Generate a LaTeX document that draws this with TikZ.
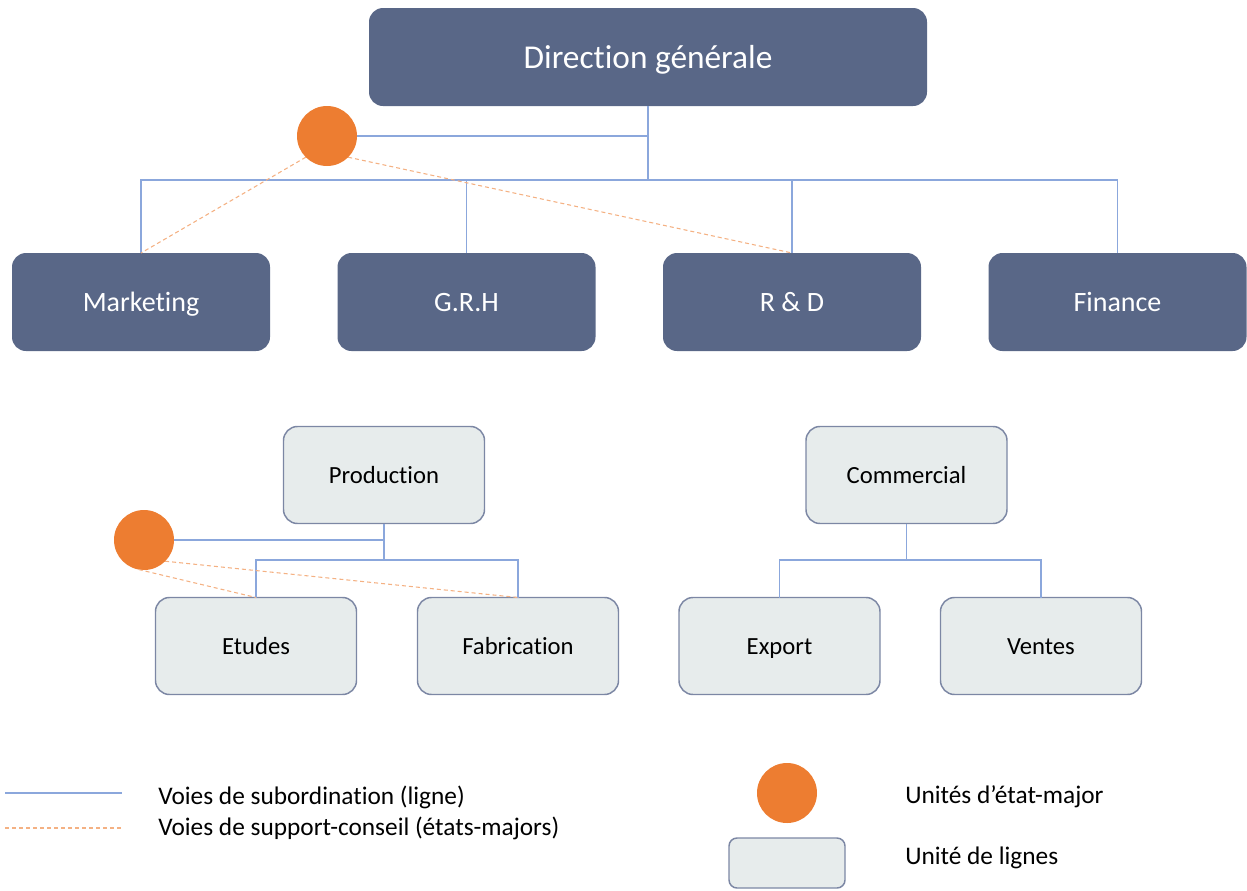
\documentclass[tikz,border=0pt]{standalone}
\usepackage{fontspec}
\setmainfont{Carlito}[Ligatures=NoCommon]
\usetikzlibrary{positioning}
\definecolor{dirblue}{HTML}{596787}
\definecolor{unitgray}{HTML}{E7ECEC}
\definecolor{unitedge}{HTML}{7C87A4}
\definecolor{staff}{HTML}{ED7D31}
\definecolor{lineblue}{HTML}{8BA7DC}
\definecolor{dashorange}{HTML}{F4B183}

\begin{document}
\begin{tikzpicture}[x=0.75pt,y=-0.75pt,
  dirbox/.style={fill=dirblue, text=white, rounded corners=10.5pt, minimum height=73.5pt, inner sep=0pt, outer sep=0pt, text depth=0pt},
  topbox/.style={dirbox, minimum width=193.5pt, text height=14.3pt, font=\fontsize{21}{25}\selectfont},
  unitbox/.style={draw=unitedge, line width=1.1pt, fill=unitgray, rounded corners=10.5pt, minimum width=150.75pt, minimum height=72.75pt, inner sep=0pt, outer sep=0pt, text height=12.6pt, text depth=0pt, font=\fontsize{18.5}{22}\selectfont},
  staffunit/.style={circle, fill=staff, minimum size=45pt, inner sep=0pt, outer sep=0pt},
  sub/.style={draw=lineblue, line width=0.8pt},
  advice/.style={draw=dashorange, line width=0.8pt, dash pattern=on 3pt off 2.25pt},
  legendtext/.style={anchor=west, font=\fontsize{19}{23}\selectfont, inner sep=0pt}]
\useasboundingbox (0,0) rectangle (1247,890);

\node[dirbox, minimum width=418.5pt, text height=17pt, font=\fontsize{25}{30}\selectfont] (dg) at (648,57) {Direction générale};
\node[topbox] (mkt) at (141,302) {Marketing};
\node[topbox] (grh) at (466.5,302) {G.R.H};
\node[topbox] (rd) at (792,302) {R \& D};
\node[topbox] (fin) at (1117.5,302) {Finance};
\node[staffunit] (st1) at (327,136) {};

\node[unitbox] (prod) at (384,475) {Production};
\node[unitbox] (com) at (906.5,475) {Commercial};
\node[unitbox] (etu) at (256,646) {Etudes};
\node[unitbox] (fab) at (518,646) {Fabrication};
\node[unitbox] (exp) at (779.5,646) {Export};
\node[unitbox] (ven) at (1041,646) {Ventes};
\node[staffunit] (st2) at (144,540) {};

\coordinate (jtop) at (dg.south |- 0,180);
\draw[sub] (dg.south) -- (jtop);
\draw[sub] (mkt.north) |- (jtop) -| (fin.north);
\draw[sub] (grh.north) -- (grh.north |- jtop);
\draw[sub] (rd.north) -- (rd.north |- jtop);
\draw[sub] (st1.east) -- (st1.east -| dg.south);
\draw[advice] (st1.-135) -- (mkt.north);
\draw[advice] (st1.-45) -- (rd.north);

\coordinate (jprod) at (prod.south |- 0,560);
\draw[sub] (prod.south) -- (jprod);
\draw[sub] (etu.north) |- (jprod) -| (fab.north);
\draw[sub] (st2.east) -- (st2.east -| prod.south);
\draw[advice] (st2.-100) -- (etu.north);
\draw[advice] (st2.-45) -- (fab.north);
\coordinate (jcom) at (com.south |- 0,560);
\draw[sub] (com.south) -- (jcom);
\draw[sub] (exp.north) |- (jcom) -| (ven.north);

\coordinate (suba) at (5,793);
\coordinate (subb) at (122,793);
\coordinate (adva) at (5,828);
\coordinate (advb) at (122,828);
\draw[sub] (suba) -- (subb);
\draw[advice] (adva) -- (advb);
\node[legendtext] (subtext) at (158,797) {Voies de subordination (ligne)};
\node[legendtext] (advtext) at (158,828) {Voies de support-conseil (états-majors)};
\node[staffunit] (keystaff) at (787,793) {};
\node[unitbox, minimum width=87pt, minimum height=37.5pt, rounded corners=6pt] (keyunit) at (787,863) {};
\node[legendtext] (staffkey) at (905,797) {Unités d’état-major};
\node[legendtext] (unitkey) at (905,858) {Unité de lignes};
\end{tikzpicture}
\end{document}
